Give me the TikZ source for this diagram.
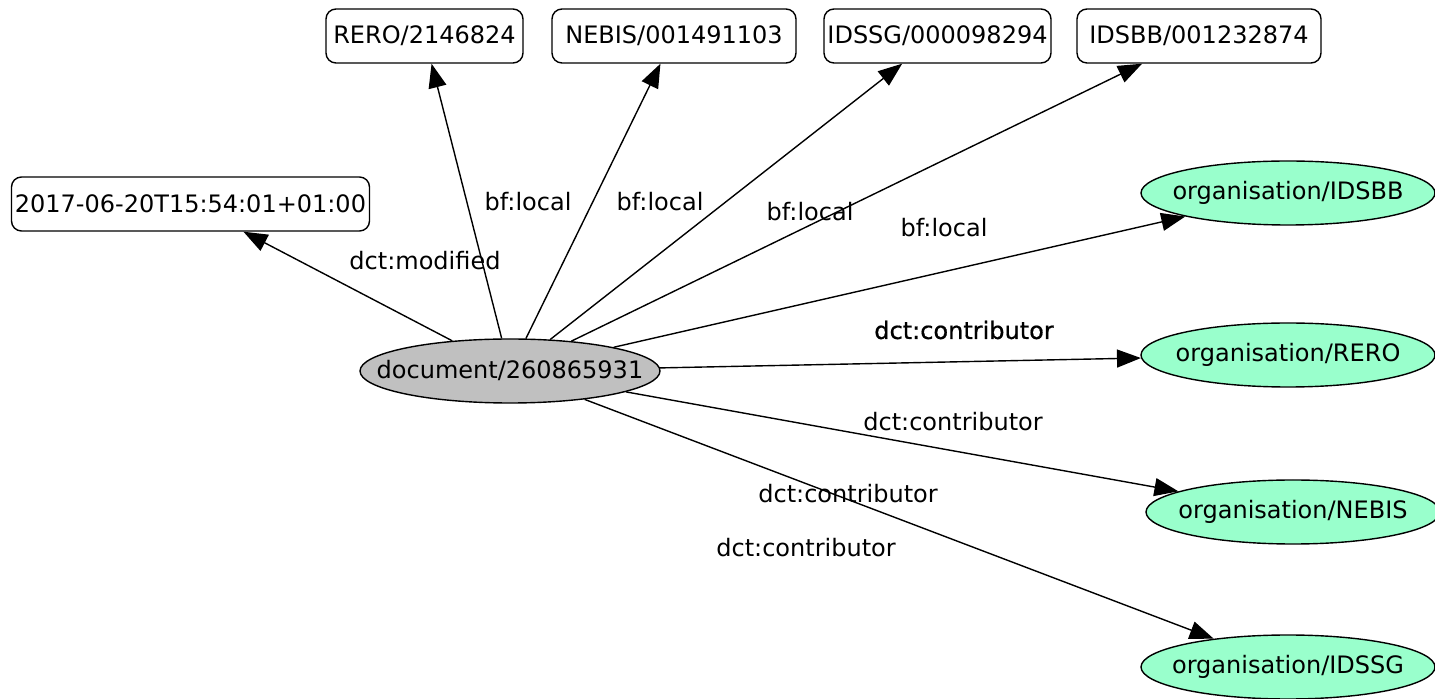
\documentclass[tikz,border=0pt]{standalone}
\usepackage{fontspec}
\setmainfont{DejaVu Sans}
\usetikzlibrary{arrows.meta,shapes.geometric}
\definecolor{orgfill}{HTML}{99FFCC}
\definecolor{docfill}{HTML}{C0C0C0}
\tikzset{
  litbox/.style={draw, rounded corners=5pt, line width=0.7pt, inner sep=0pt, minimum height=27pt, font=\fontsize{12pt}{14pt}\selectfont},
  orgnode/.style={draw, ellipse, fill=orgfill, line width=0.7pt, inner sep=0pt, minimum width=147pt, minimum height=32pt, font=\fontsize{12pt}{14pt}\selectfont},
  docnode/.style={draw, ellipse, fill=docfill, line width=0.7pt, inner sep=0pt, minimum width=150pt, minimum height=32pt, font=\fontsize{12pt}{14pt}\selectfont},
  edge/.style={line width=0.7pt, -{Triangle[length=12pt,width=9pt]}},
  elabel/.style={font=\fontsize{12pt}{14pt}\selectfont, inner sep=0pt}
}
\newcommand{\zw}[1]{\makebox[0pt]{#1}}
\begin{document}
\begin{tikzpicture}[x=0.5pt,y=-0.5pt]
\useasboundingbox (0,0) rectangle (1435,699);
\node[docnode] (doc) at (510,371) {\zw{document/260865931}};
\node[litbox, minimum width=179pt] (ts) at (190.5,204) {2017-06-20T15:54:01+01:00};
\node[litbox, minimum width=98.5pt] (rero) at (424.5,36) {RERO/2146824};
\node[litbox, minimum width=122pt] (nebis) at (674,36) {NEBIS/001491103};
\node[litbox, minimum width=113.5pt] (idssg) at (937.5,36) {\zw{IDSSG/000098294}};
\node[litbox, minimum width=122pt] (idsbb) at (1199,36) {IDSBB/001232874};
\node[orgnode] (oidsbb) at (1288,193) {\zw{organisation/IDSBB}};
\node[orgnode] (orero) at (1288,355) {\zw{organisation/RERO}};
\node[orgnode] (onebis) at (1293,512) {\zw{organisation/NEBIS}};
\node[orgnode] (oidssg) at (1288,667) {\zw{organisation/IDSSG}};

\draw[edge] (doc) -- (ts);
\draw[edge] (doc) -- (rero);
\draw[edge] (doc) -- (nebis);
\draw[edge] (doc) -- (idssg);
\draw[edge] (doc) -- (idsbb);
\draw[edge] (doc) -- (oidsbb);
\draw[edge] (doc) -- (orero);
\draw[edge] (doc) -- (onebis);
\draw[edge] (doc) -- (oidssg);

\node[elabel] (l1) at (425,261) {dct:modified};
\node[elabel] (l2) at (528,202) {bf:local};
\node[elabel] (l3) at (660,202) {bf:local};
\node[elabel] (l4) at (810,212) {bf:local};
\node[elabel] (l5) at (944,228) {bf:local};
\node[elabel] (l6) at (964,330) {\addfontfeature{FakeBold=0.7}dct:contributor};
\node[elabel] (l7) at (953,422) {dct:contributor};
\node[elabel] (l8) at (848,494) {dct:contributor};
\node[elabel] (l9) at (806,548) {dct:contributor};
\end{tikzpicture}
\end{document}
